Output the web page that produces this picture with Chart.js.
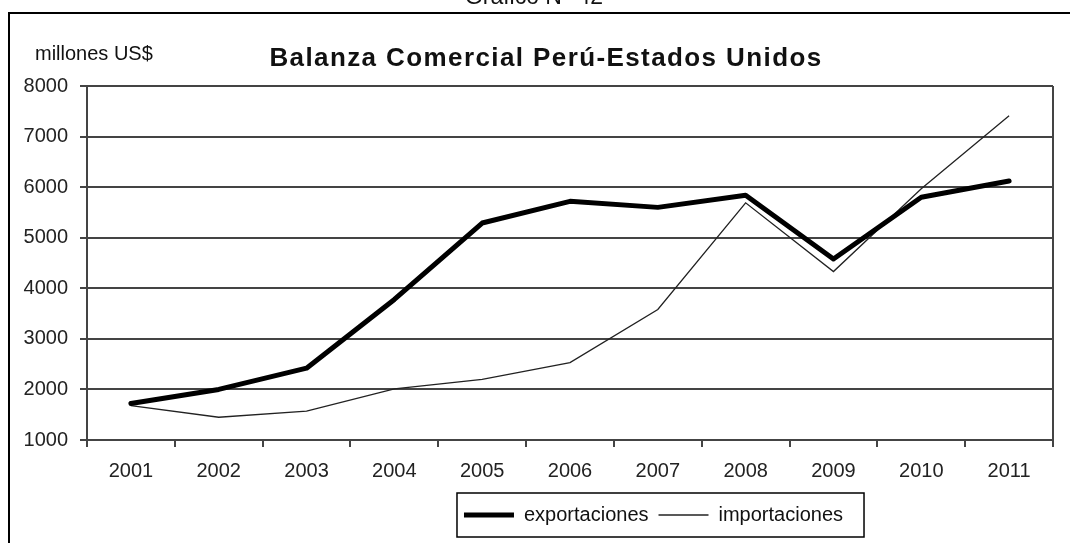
<!DOCTYPE html>
<html>
<head>
<meta charset="utf-8">
<script src="https://cdn.jsdelivr.net/npm/chart.js@4"></script>
<style>
  html, body { margin: 0; padding: 0; background: #fff; }
</style>
</head>
<body>
<canvas id="balanzaChart" width="1070" height="543"></canvas>
<script>
// datos (millones US$)
const years = ['2001', '2002', '2003', '2004', '2005', '2006', '2007', '2008', '2009', '2010', '2011'];
const exportaciones = [1720, 2000, 2420, 3780, 5290, 5720, 5600, 5840, 4580, 5800, 6120];
const importaciones = [1680, 1450, 1570, 2010, 2200, 2530, 3580, 5690, 4330, 5970, 7410];
const yTicks = [1000, 2000, 3000, 4000, 5000, 6000, 7000, 8000];

const chartTitle = 'Balanza Comercial Perú-Estados Unidos';
const unitLabel = 'millones US$';
const figLabel = 'Gráfico N° 42';

Chart.defaults.font.family = "'Liberation Sans', Arial, sans-serif";

const decor = {
  id: 'decor',
  afterLayout(chart) {
    // la leyenda del original esta corrida a la derecha
    chart.legend.left += 116;
    chart.legend.right += 116;
  },
  beforeDraw(chart) {
    const ctx = chart.ctx;
    ctx.save();
    ctx.fillStyle = '#fff';
    ctx.fillRect(0, 0, chart.width, chart.height);
    ctx.strokeStyle = '#000';
    ctx.lineWidth = 2;
    ctx.beginPath();
    ctx.moveTo(9, chart.height);
    ctx.lineTo(9, 13);
    ctx.lineTo(chart.width, 13);
    ctx.stroke();
    ctx.restore();
  },
  afterDraw(chart) {
    const ctx = chart.ctx;
    const a = chart.chartArea;
    ctx.save();
    // borde derecho del area de trazado
    ctx.strokeStyle = '#444';
    ctx.lineWidth = 2;
    ctx.beginPath();
    ctx.moveTo(a.right, a.top);
    ctx.lineTo(a.right, a.bottom);
    ctx.stroke();

    // marco de la leyenda
    const hb = chart.legend.legendHitBoxes;
    const first = hb[0], last = hb[hb.length - 1];
    const cy = first.top + first.height / 2;
    ctx.strokeStyle = '#000';
    ctx.lineWidth = 1.5;
    ctx.strokeRect(first.left - 7, cy - 22, last.left + last.width - first.left + 28, 44);

    // textos
    ctx.fillStyle = '#111';
    ctx.textBaseline = 'alphabetic';
    ctx.textAlign = 'center';
    ctx.font = "23px 'Liberation Sans', Arial";
    ctx.fillText(figLabel, 534, 4);

    ctx.textAlign = 'left';
    ctx.font = "20px 'Liberation Sans', Arial";
    ctx.fillText(unitLabel, 35, 60);

    ctx.textAlign = 'center';
    ctx.font = "bold 26px 'Liberation Sans', Arial";
    ctx.letterSpacing = '1.4px';
    ctx.fillText(chartTitle, 546, 66);
    ctx.restore();
  }
};

const context = document.getElementById('balanzaChart');

const data = {
  labels: years,
  datasets: [
    {
      label: 'exportaciones',
      data: exportaciones,
      borderColor: '#000',
      backgroundColor: '#000',
      borderWidth: 5,
      pointBorderWidth: 5,
      borderCapStyle: 'round',
      borderJoinStyle: 'round',
      pointRadius: 0,
      pointHoverRadius: 0,
      tension: 0
    },
    {
      label: 'importaciones',
      data: importaciones,
      borderColor: '#222',
      backgroundColor: '#222',
      borderWidth: 1.3,
      pointBorderWidth: 1.3,
      pointRadius: 0,
      pointHoverRadius: 0,
      tension: 0
    }
  ]
};

const config = {
  type: 'line',
  data: data,
  options: {
    responsive: false,
    animation: false,
    layout: { padding: { top: 86, left: 22, right: 17, bottom: 8 } },
    plugins: {
      title: { display: false },
      tooltip: { enabled: false },
      legend: {
        position: 'bottom',
        labels: {
          color: '#111',
          font: { size: 20 },
          padding: 10,
          usePointStyle: true,
          pointStyle: 'line',
          pointStyleWidth: 50
        }
      }
    },
    scales: {
      x: {
        type: 'category',
        offset: true,
        grid: { offset: true, drawOnChartArea: false, tickLength: 7, color: '#444', lineWidth: 2 },
        border: { color: '#444', width: 2 },
        ticks: { color: '#222', font: { size: 20 }, padding: 12, maxRotation: 0, autoSkip: false },
        afterFit(s) { s.height = 55; }
      },
      y: {
        min: 1000,
        max: 8000,
        afterBuildTicks(s) { s.ticks = yTicks.map(v => ({ value: v })); },
        grid: { color: '#444', lineWidth: 2, tickLength: 7 },
        border: { color: '#444', width: 2 },
        ticks: { color: '#222', font: { size: 20 }, padding: 12, callback: v => String(v) },
        afterFit(s) { s.width = 65; }
      }
    }
  },
  plugins: [decor]
};

const balanzaChart = new Chart(context, config);
</script>
</body>
</html>
